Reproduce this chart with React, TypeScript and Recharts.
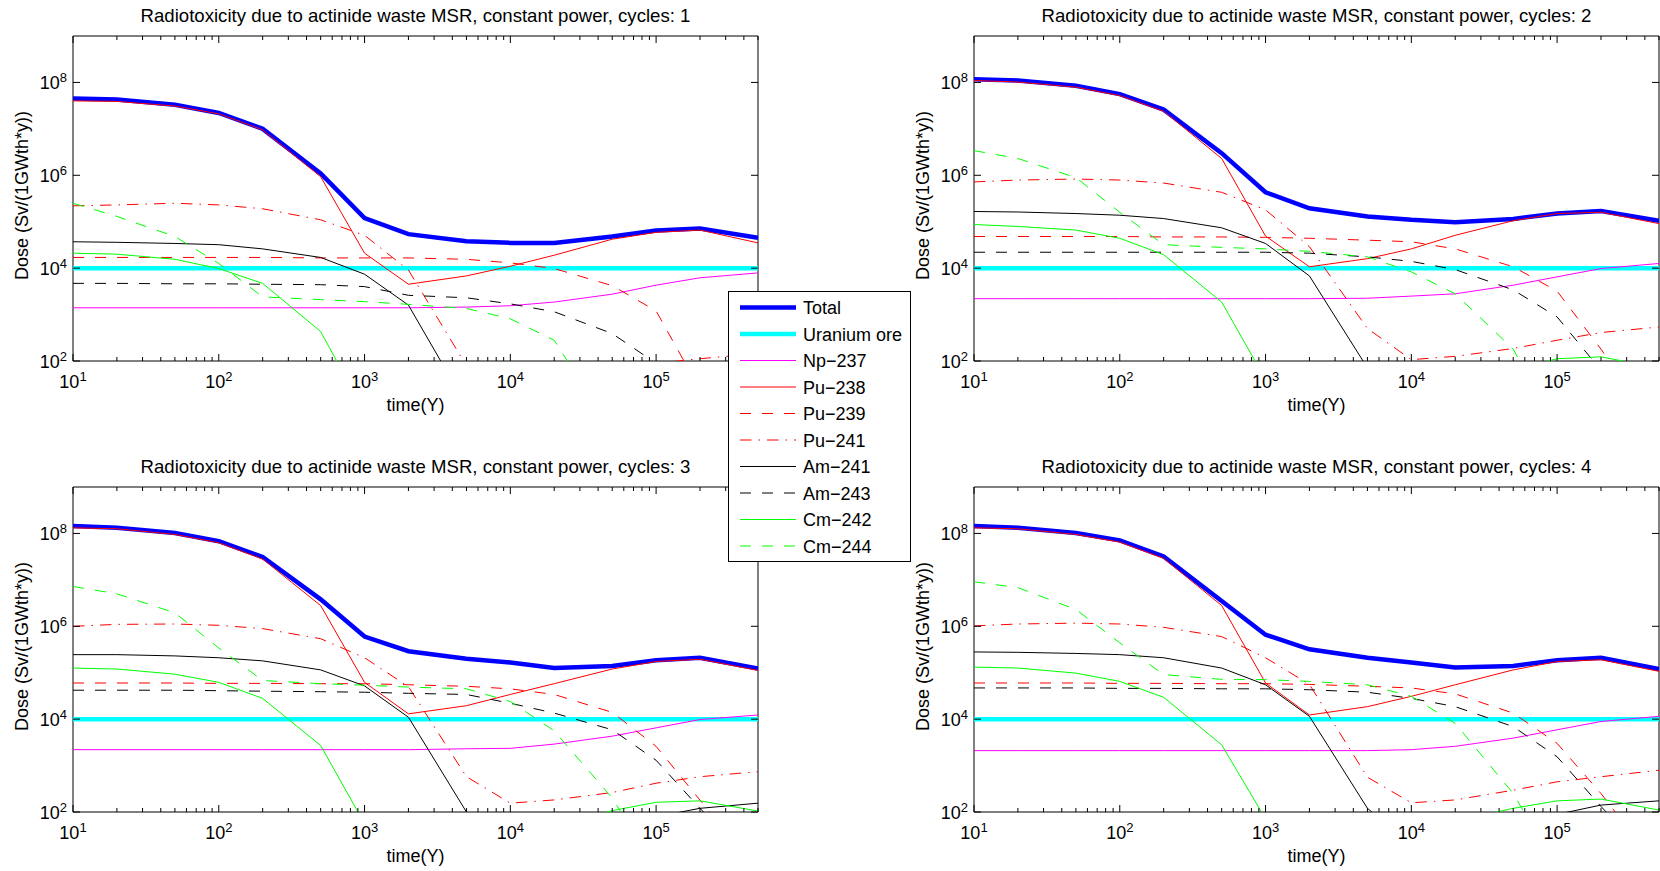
import { LineChart, Line, XAxis, YAxis, ReferenceArea } from 'recharts'

// time points (years)
const times = [10, 20, 50, 100, 200, 500, 1000, 2000, 5000, 10000, 20000, 50000, 100000, 200000, 500000]

const xTicks = [
  10, 20, 30, 40, 50, 60, 70, 80, 90,
  100, 200, 300, 400, 500, 600, 700, 800, 900,
  1000, 2000, 3000, 4000, 5000, 6000, 7000, 8000, 9000,
  10000, 20000, 30000, 40000, 50000, 60000, 70000, 80000, 90000,
  100000, 200000, 300000, 400000, 500000,
]
const yTicks = [1e2, 1e4, 1e6, 1e8]

const uraniumOre = [1e4, 1e4, 1e4, 1e4, 1e4, 1e4, 1e4, 1e4, 1e4, 1e4, 1e4, 1e4, 1e4, 1e4, 1e4]

// cycle 1
const c1Total = [4.5e7, 4.3e7, 3.3e7, 2.2e7, 1.0e7, 1.1e6, 1.2e5, 5.4e4, 3.8e4, 3.5e4, 3.5e4, 4.8e4, 6.5e4, 7.1e4, 4.5e4]
const c1Np237 = [1.4e3, 1.4e3, 1.4e3, 1.4e3, 1.4e3, 1.4e3, 1.4e3, 1.4e3, 1.45e3, 1.55e3, 1.86e3, 2.75e3, 4.3e3, 6.2e3, 7.9e3]
const c1Pu238 = [4.0e7, 3.9e7, 3.1e7, 2.1e7, 9.5e6, 9.3e5, 2.1e4, 4.5e3, 6.8e3, 1.1e4, 1.9e4, 4.2e4, 5.9e4, 6.6e4, 3.5e4]
const c1Pu239 = [1.7e4, 1.7e4, 1.7e4, 1.7e4, 1.7e4, 1.66e4, 1.66e4, 1.66e4, 1.55e4, 1.3e4, 9.8e3, 4.2e3, 1.2e3, 24, 3]
const c1Pu241 = [2.2e5, 2.3e5, 2.5e5, 2.3e5, 1.9e5, 1.1e5, 5.1e4, 9.1e3, 79, 32, 35, 56, 89, 112, 145]
const c1Am241 = [3.7e4, 3.6e4, 3.4e4, 3.2e4, 2.6e4, 1.7e4, 7.4e3, 1.6e3, 11, 6, 6, 8, 10, 13, 16]
const c1Am243 = [4.7e3, 4.7e3, 4.6e3, 4.6e3, 4.5e3, 4.4e3, 4.0e3, 2.6e3, 2.3e3, 1.7e3, 1.15e3, 390, 89, 20, 6]
const c1Cm242 = [2.1e4, 2.0e4, 1.55e4, 9.8e3, 4.7e3, 430, 8, 4, 3, 3, 4, 8, 20, 25, 16]
const c1Cm244 = [2.5e5, 1.3e5, 4.8e4, 1.26e4, 2.4e3, 2.1e3, 1.9e3, 1.66e3, 1.35e3, 810, 280, 3, 2, 1.6, 1.3]

// cycle 2
const c2Total = [1.17e8, 1.1e8, 8.5e7, 5.6e7, 2.6e7, 3.0e6, 4.3e5, 1.95e5, 1.3e5, 1.1e5, 9.8e4, 1.15e5, 1.5e5, 1.7e5, 1.05e5]
const c2Np237 = [2.2e3, 2.2e3, 2.2e3, 2.2e3, 2.2e3, 2.2e3, 2.2e3, 2.2e3, 2.25e3, 2.5e3, 2.8e3, 4.3e3, 6.5e3, 9.8e3, 1.26e4]
const c2Pu238 = [1.1e8, 1.02e8, 7.9e7, 5.2e7, 2.4e7, 2.3e6, 4.9e4, 1.07e4, 1.6e4, 2.6e4, 5.1e4, 1.05e5, 1.5e5, 1.6e5, 9.1e4]
const c2Pu239 = [4.8e4, 4.8e4, 4.8e4, 4.8e4, 4.7e4, 4.7e4, 4.6e4, 4.4e4, 4.0e4, 3.7e4, 2.6e4, 1.07e4, 3.2e3, 180, 3]
const c2Pu241 = [7.2e5, 7.9e5, 8.3e5, 7.9e5, 6.8e5, 4.3e5, 1.8e5, 2.9e4, 500, 107, 126, 186, 280, 410, 540]
const c2Am241 = [1.66e5, 1.62e5, 1.5e5, 1.38e5, 1.17e5, 7.4e4, 3.4e4, 6.8e3, 71, 10, 8, 13, 25, 50, 79]
const c2Am243 = [2.2e4, 2.2e4, 2.2e4, 2.2e4, 2.2e4, 2.2e4, 2.2e4, 2.1e4, 1.75e4, 1.4e4, 9.3e3, 3.4e3, 890, 63, 6]
const c2Cm242 = [8.7e4, 7.9e4, 6.6e4, 4.4e4, 1.95e4, 1.86e3, 40, 16, 16, 20, 32, 63, 112, 123, 71]
const c2Cm244 = [3.4e6, 2.3e6, 8.9e5, 1.6e5, 3.2e4, 2.8e4, 2.6e4, 2.3e4, 1.75e4, 8.3e3, 2.8e3, 180, 3, 2, 1.6]

// cycle 3
const c3Total = [1.45e8, 1.32e8, 1.02e8, 6.8e7, 3.1e7, 3.8e6, 6.0e5, 2.9e5, 2.0e5, 1.66e5, 1.26e5, 1.4e5, 1.86e5, 2.1e5, 1.23e5]
const c3Np237 = [2.2e3, 2.2e3, 2.2e3, 2.2e3, 2.2e3, 2.2e3, 2.2e3, 2.2e3, 2.3e3, 2.35e3, 2.9e3, 4.3e3, 6.5e3, 9.8e3, 1.23e4]
const c3Pu238 = [1.32e8, 1.26e8, 9.5e7, 6.3e7, 2.8e7, 2.8e6, 6.2e4, 1.3e4, 1.95e4, 3.4e4, 5.8e4, 1.2e5, 1.74e5, 1.95e5, 1.12e5]
const c3Pu239 = [6.0e4, 6.0e4, 6.0e4, 5.9e4, 5.9e4, 5.8e4, 5.8e4, 5.5e4, 5.1e4, 4.5e4, 3.4e4, 1.4e4, 2.6e3, 180, 6]
const c3Pu241 = [1.0e6, 1.1e6, 1.12e6, 1.05e6, 8.9e5, 5.4e5, 2.1e5, 5.0e4, 575, 155, 182, 263, 417, 575, 741]
const c3Am241 = [2.45e5, 2.45e5, 2.3e5, 2.1e5, 1.8e5, 1.15e5, 5.2e4, 1.1e4, 100, 16, 20, 40, 79, 120, 155]
const c3Am243 = [4.2e4, 4.2e4, 4.2e4, 4.1e4, 4.0e4, 3.9e4, 3.8e4, 3.6e4, 3.4e4, 2.2e4, 1.35e4, 5.9e3, 1.3e3, 120, 6]
const c3Cm242 = [1.26e5, 1.2e5, 9.3e4, 6.2e4, 2.8e4, 2.7e3, 56, 20, 25, 32, 50, 107, 162, 174, 105]
const c3Cm244 = [7.2e6, 5.0e6, 1.95e6, 3.4e5, 6.8e4, 5.8e4, 5.4e4, 4.9e4, 4.5e4, 2.4e4, 5.6e3, 200, 6, 2.5, 1.6]

// cycle 4
const c4Total = [1.45e8, 1.32e8, 1.02e8, 7.1e7, 3.2e7, 3.5e6, 6.6e5, 3.2e5, 2.1e5, 1.66e5, 1.3e5, 1.4e5, 1.86e5, 2.1e5, 1.2e5]
const c4Np237 = [2.1e3, 2.1e3, 2.1e3, 2.1e3, 2.1e3, 2.1e3, 2.1e3, 2.1e3, 2.1e3, 2.2e3, 2.6e3, 3.9e3, 5.9e3, 8.9e3, 1.15e4]
const c4Pu238 = [1.32e8, 1.26e8, 9.5e7, 6.5e7, 2.9e7, 2.8e6, 6.0e4, 1.23e4, 1.86e4, 3.1e4, 5.5e4, 1.15e5, 1.74e5, 1.9e5, 1.07e5]
const c4Pu239 = [6.0e4, 6.0e4, 6.0e4, 5.9e4, 5.9e4, 5.8e4, 5.8e4, 5.6e4, 5.1e4, 4.7e4, 3.5e4, 1.35e4, 3.0e3, 250, 6]
const c4Pu241 = [1.02e6, 1.12e6, 1.17e6, 1.12e6, 9.5e5, 6.0e5, 2.1e5, 5.6e4, 560, 158, 182, 295, 447, 575, 794]
const c4Am241 = [2.8e5, 2.75e5, 2.6e5, 2.45e5, 2.1e5, 1.26e5, 5.5e4, 1.15e4, 120, 20, 25, 50, 89, 141, 174]
const c4Am243 = [4.7e4, 4.7e4, 4.7e4, 4.6e4, 4.6e4, 4.5e4, 4.5e4, 4.3e4, 3.8e4, 2.8e4, 1.86e4, 6.9e3, 1.55e3, 132, 6]
const c4Cm242 = [1.32e5, 1.26e5, 9.8e4, 6.5e4, 2.95e4, 2.8e3, 71, 25, 32, 40, 63, 120, 174, 190, 110]
const c4Cm244 = [9.1e6, 6.8e6, 2.3e6, 4.4e5, 9.1e4, 7.2e4, 7.1e4, 6.5e4, 5.5e4, 3.1e4, 8.1e3, 250, 6, 2.5, 1.6]

const DASH = '11 11'
const DASH_DOT = '11.5 7 1.5 7'

// line styles, in legend order
const series = [
  { key: 'total', name: 'Total', color: '#0000ff', width: 4.5, dash: undefined },
  { key: 'ore', name: 'Uranium ore', color: '#00ffff', width: 4.5, dash: undefined },
  { key: 'np237', name: 'Np\u2212237', color: '#ff00ff', width: 1, dash: undefined },
  { key: 'pu238', name: 'Pu\u2212238', color: '#ff0000', width: 1, dash: undefined },
  { key: 'pu239', name: 'Pu\u2212239', color: '#ff0000', width: 1, dash: DASH },
  { key: 'pu241', name: 'Pu\u2212241', color: '#ff0000', width: 1, dash: DASH_DOT },
  { key: 'am241', name: 'Am\u2212241', color: '#000000', width: 1, dash: undefined },
  { key: 'am243', name: 'Am\u2212243', color: '#000000', width: 1, dash: DASH },
  { key: 'cm242', name: 'Cm\u2212242', color: '#00ff00', width: 1, dash: undefined },
  { key: 'cm244', name: 'Cm\u2212244', color: '#00ff00', width: 1, dash: DASH },
]

function makeRows(cols: Record<string, number[]>) {
  return times.map((t, i) => {
    const row: Record<string, number> = { t, ore: uraniumOre[i] }
    for (const k of Object.keys(cols)) row[k] = cols[k][i]
    return row
  })
}

const cycles = [
  makeRows({ total: c1Total, np237: c1Np237, pu238: c1Pu238, pu239: c1Pu239, pu241: c1Pu241, am241: c1Am241, am243: c1Am243, cm242: c1Cm242, cm244: c1Cm244 }),
  makeRows({ total: c2Total, np237: c2Np237, pu238: c2Pu238, pu239: c2Pu239, pu241: c2Pu241, am241: c2Am241, am243: c2Am243, cm242: c2Cm242, cm244: c2Cm244 }),
  makeRows({ total: c3Total, np237: c3Np237, pu238: c3Pu238, pu239: c3Pu239, pu241: c3Pu241, am241: c3Am241, am243: c3Am243, cm242: c3Cm242, cm244: c3Cm244 }),
  makeRows({ total: c4Total, np237: c4Np237, pu238: c4Pu238, pu239: c4Pu239, pu241: c4Pu241, am241: c4Am241, am243: c4Am243, cm242: c4Cm242, cm244: c4Cm244 }),
]

const PLOT_W = 685
const PLOT_H = 325
const Y_AXIS_W = 60
const X_AXIS_H = 30
const FONT = 18
const TITLE_FONT = 18.6
const SUP = 13

const panels = [
  { left: 0, top: 0, width: 830, height: 436, margin: { top: 36, right: 72, bottom: 45, left: 13 } },
  { left: 900, top: 0, width: 760, height: 436, margin: { top: 36, right: 1, bottom: 45, left: 14 } },
  { left: 0, top: 440, width: 830, height: 431, margin: { top: 47, right: 72, bottom: 29, left: 13 } },
  { left: 900, top: 440, width: 760, height: 431, margin: { top: 47, right: 1, bottom: 29, left: 14 } },
]

function XTick(props: any) {
  const { x, y, payload } = props
  const e = Math.log10(payload.value)
  const major = Math.abs(e - Math.round(e)) < 1e-6
  const len = major ? 7 : 4
  return (
    <g>
      <line x1={x} x2={x} y1={y} y2={y - len} stroke="#000" />
      <line x1={x} x2={x} y1={y - PLOT_H} y2={y - PLOT_H + len} stroke="#000" />
      {major && (
        <text x={x} y={y + 27} textAnchor="middle" fontSize={FONT} fill="#000">
          <tspan>10</tspan>
          <tspan dy={-7} fontSize={SUP}>{Math.round(e)}</tspan>
        </text>
      )}
    </g>
  )
}

function YTick(props: any) {
  const { x, y, payload } = props
  const e = Math.round(Math.log10(payload.value))
  return (
    <g>
      <line x1={x} x2={x + 7} y1={y} y2={y} stroke="#000" />
      <line x1={x + PLOT_W} x2={x + PLOT_W - 7} y1={y} y2={y} stroke="#000" />
      <text x={x - 6} y={y + 6.5} textAnchor="end" fontSize={FONT} fill="#000">
        <tspan>10</tspan>
        <tspan dy={-7} fontSize={SUP}>{e}</tspan>
      </text>
    </g>
  )
}

function Panel({ idx }: { idx: number }) {
  const p = panels[idx]
  return (
    <div style={{ position: 'absolute', left: p.left, top: p.top }}>
      <LineChart width={p.width} height={p.height} data={cycles[idx]} margin={p.margin}>
        <XAxis
          dataKey="t"
          type="number"
          scale="log"
          domain={[10, 500000]}
          ticks={xTicks}
          interval={0}
          allowDataOverflow
          axisLine={false}
          tickLine={false}
          tickSize={0}
          tickMargin={0}
          height={X_AXIS_H}
          tick={<XTick />}
        />
        <YAxis
          type="number"
          scale="log"
          domain={[100, 1e9]}
          ticks={yTicks}
          interval={0}
          allowDataOverflow
          axisLine={false}
          tickLine={false}
          tickSize={0}
          tickMargin={0}
          width={Y_AXIS_W}
          tick={<YTick />}
        />
        {series.map((s) => (
          <Line
            key={s.key}
            dataKey={s.key}
            type="linear"
            stroke={s.color}
            strokeWidth={s.width}
            strokeDasharray={s.dash}
            dot={false}
            activeDot={false}
            isAnimationActive={false}
          />
        ))}
        <ReferenceArea x1={10} x2={500000} y1={100} y2={1e9} fill="none" stroke="#000" strokeWidth={1} ifOverflow="visible" />
      </LineChart>
    </div>
  )
}

export default function App() {
  const legendX = 728.5
  const legendY = 291.5
  return (
    <div
      style={{
        position: 'absolute',
        left: 0,
        top: 0,
        width: 1660,
        height: 871,
        background: '#fff',
        fontFamily: '"Liberation Sans", Arial, Helvetica, sans-serif',
        overflow: 'hidden',
      }}
    >
      {panels.map((_, i) => (
        <Panel key={i} idx={i} />
      ))}
      <svg width={1660} height={871} style={{ position: 'absolute', left: 0, top: 0, pointerEvents: 'none' }}>
        {panels.map((p, i) => {
          const px = p.left + p.margin.left + Y_AXIS_W
          const py = p.top + p.margin.top
          const cx = px + PLOT_W / 2
          return (
            <g key={i} fill="#000" fontSize={FONT}>
              <text x={cx} y={py - 14} textAnchor="middle" fontSize={TITLE_FONT}>
                {`Radiotoxicity due to actinide waste MSR, constant power, cycles: ${i + 1}`}
              </text>
              <text x={cx} y={py + PLOT_H + 49.5} textAnchor="middle">
                time(Y)
              </text>
              <text
                x={px - 45.5}
                y={py + PLOT_H / 2 - 3}
                textAnchor="middle"
                transform={`rotate(-90 ${px - 45.5} ${py + PLOT_H / 2 - 3})`}
              >
                Dose (Sv/(1GWth*y))
              </text>
            </g>
          )
        })}
        {/* legend */}
        <rect x={legendX} y={legendY} width={182} height={270} fill="#fff" stroke="#000" />
        {series.map((s, i) => {
          const ry = legendY + 16 + i * 26.5
          return (
            <g key={s.key}>
              <line x1={740} x2={796} y1={ry} y2={ry} stroke={s.color} strokeWidth={s.width} strokeDasharray={s.dash} />
              <text x={803} y={ry + 6.5} fontSize={FONT} fill="#000">
                {s.name}
              </text>
            </g>
          )
        })}
      </svg>
    </div>
  )
}
